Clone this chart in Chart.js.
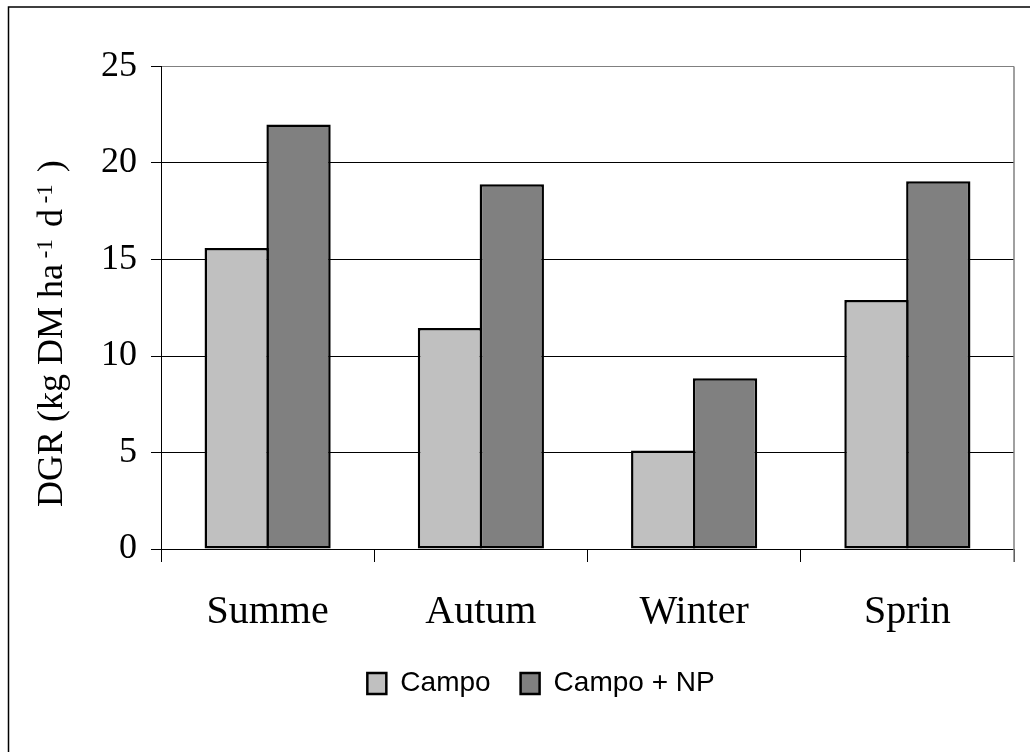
<!DOCTYPE html>
<html><head><meta charset="utf-8">
<script src="https://cdn.jsdelivr.net/npm/chart.js@4/dist/chart.umd.min.js"></script>
<style>html,body{margin:0;padding:0;background:#fff;overflow:hidden;}</style>
</head><body>
<canvas id="c" width="1030" height="752"></canvas>
<script>
const seasons = ['Summe', 'Autum', 'Winter', 'Sprin'];
const campo = [15.6, 11.45, 5.1, 12.9];
const campoNP = [22.0, 18.9, 8.85, 19.05];
const seriesNames = ['Campo', 'Campo + NP'];
const seriesColors = ['#C0C0C0', '#808080'];
const yTicks = [0, 5, 10, 15, 20, 25];
const yTitleParts = [
  { text: 'DGR (kg DM ha', sup: false },
  { text: ' -1', sup: true },
  { text: ' d', sup: false },
  { text: ' -1', sup: true },
  { text: ' )', sup: false }
];

const SERIF = "'Liberation Serif', 'Times New Roman', serif";
const SANS = "'Liberation Sans', Arial, sans-serif";

const decor = {
  id: 'decor',
  beforeDraw(chart) {
    const ctx = chart.ctx;
    ctx.save();
    ctx.fillStyle = '#fff';
    ctx.fillRect(0, 0, chart.width, chart.height);
    ctx.restore();
  },
  afterDraw(chart) {
    const { ctx, chartArea: a } = chart;
    ctx.save();
    // outer figure frame (left + top visible)
    ctx.strokeStyle = '#000';
    ctx.lineWidth = 1.5;
    ctx.beginPath();
    ctx.moveTo(8.5, chart.height + 5);
    ctx.lineTo(8.5, 7);
    ctx.lineTo(chart.width + 5, 7);
    ctx.stroke();
    // plot area right border
    ctx.strokeStyle = '#808080';
    ctx.lineWidth = 1.5;
    ctx.beginPath();
    ctx.moveTo(a.right, a.top);
    ctx.lineTo(a.right, a.bottom + 13);
    ctx.stroke();
    // y axis title with superscripts
    ctx.translate(a.left - 99, a.bottom - 42);
    ctx.rotate(-Math.PI / 2);
    ctx.fillStyle = '#000';
    ctx.textBaseline = 'alphabetic';
    ctx.textAlign = 'left';
    let x = 0;
    yTitleParts.forEach(p => {
      ctx.font = (p.sup ? '23px ' : '36px ') + SERIF;
      ctx.fillText(p.text, x, p.sup ? -10 : 0);
      x += ctx.measureText(p.text).width + (p.sup ? 3 : 0);
    });
    ctx.restore();
  }
};

new Chart(document.getElementById('c'), {
  type: 'bar',
  data: {
    labels: seasons,
    datasets: [
      { label: seriesNames[0], data: campo, backgroundColor: seriesColors[0] },
      { label: seriesNames[1], data: campoNP, backgroundColor: seriesColors[1] }
    ].map(d => Object.assign(d, {
      borderColor: '#000', borderWidth: 2.5, borderSkipped: false,
      categoryPercentage: 0.58, barPercentage: 1.04
    }))
  },
  options: {
    responsive: false,
    devicePixelRatio: 1,
    animation: false,
    layout: { padding: { left: 68, right: 16, top: 66.5, bottom: 44.5 } },
    plugins: {
      tooltip: { enabled: false },
      title: { display: false },
      legend: {
        position: 'bottom',
        align: 'center',
        labels: {
          font: { family: SANS, size: 28 },
          color: '#000',
          boxWidth: 19,
          boxHeight: 21,
          padding: 30
        }
      }
    },
    scales: {
      x: {
        grid: { offset: true, drawOnChartArea: false, drawTicks: true, tickLength: 13, color: '#000', lineWidth: 1 },
        border: { color: '#000', width: 1 },
        ticks: { font: { family: SERIF, size: 40 }, color: '#000', padding: 26, maxRotation: 0, autoSkip: false },
        afterFit(s) { s.height = 90.5; }
      },
      y: {
        min: 0, max: 25,
        afterBuildTicks(s) { s.ticks = yTicks.map(v => ({ value: v })); },
        ticks: { font: { family: SERIF, size: 36 }, color: '#000', padding: 14 },
        grid: {
          color: c => (c.tick && c.tick.value === 25) ? '#808080' : '#000',
          tickColor: '#000', tickLength: 10, lineWidth: 1
        },
        border: { color: '#000', width: 1 },
        afterFit(s) { s.width = 93; }
      }
    }
  },
  plugins: [decor]
});
</script>
</body></html>
